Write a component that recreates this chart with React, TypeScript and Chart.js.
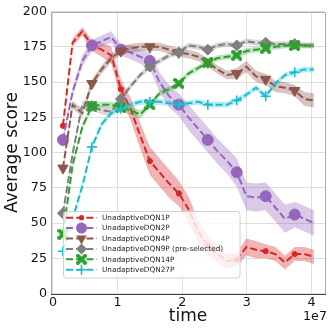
import React, { useEffect, useRef } from "react";
import { Chart, registerables } from "chart.js";
Chart.register(...registerables);

// training steps in millions
const steps = [1.55, 3.04, 4.54, 6.03, 7.53, 9.02, 10.51, 12.01, 13.5, 15.0, 16.49, 17.98, 19.48, 20.97, 22.47, 23.96, 25.45, 26.95, 28.44, 29.94, 31.43, 32.92, 34.42, 35.91, 37.41, 38.9, 40.39];

const dqn1 = [119, 178, 186, 176, 173, 169, 145, 131, 112, 94, 86, 78, 71, 60, 44, 34, 28, 23, 24, 33, 31, 30, 28, 22, 28, 28, 26];
const dqn1Spread = [2, 3, 3, 4, 5, 6, 7, 8, 9, 10, 10, 10, 9, 9, 8, 7, 6, 5, 5, 6, 6, 5, 5, 5, 5, 5, 5];
const dqn2 = [109, 143, 165, 176, 179, 182, 173, 171, 168, 165, 150, 140, 134, 125, 117, 109, 101, 94, 86, 69, 68, 69, 61, 53, 56, 53, 50];
const dqn2Spread = [2, 3, 4, 4, 4, 4, 4, 5, 5, 6, 7, 8, 8, 9, 9, 9, 9, 9, 10, 10, 10, 10, 10, 10, 9, 9, 9];
const dqn4 = [89, 134, 128, 149, 159, 167, 172, 174, 175, 175, 175, 173, 171, 170, 168, 164, 159, 155, 156, 161, 154, 152, 147, 146, 144, 138, 137];
const dqn4Spread = [2, 3, 3, 3, 3, 3, 3, 3, 3, 3, 3, 3, 3, 3, 3, 3, 3, 3, 4, 4, 4, 4, 4, 4, 4, 5, 5];
const dqn9 = [57, 99, 134, 133, 130, 129, 138, 147, 155, 161, 165, 169, 171, 176, 175, 173, 176, 177, 176, 179, 178, 178, 177, 177, 177, 176, 176];
const dqn9Spread = [2, 3, 3, 3, 3, 3, 3, 2, 2, 2, 2, 2, 2, 2, 2, 2, 2, 2, 2, 2, 2, 2, 2, 2, 2, 2, 2];
const dqn14 = [42, 91, 118, 133, 134, 134, 132, 130, 127, 134, 142, 145, 149, 156, 160, 164, 167, 168, 169, 172, 173, 174, 175, 176, 176, 176, 176];
const dqn14Spread = [1, 2, 2, 2, 2, 2, 3, 3, 3, 2, 2, 2, 2, 2, 2, 2, 2, 2, 2, 2, 2, 2, 2, 2, 2, 2, 2];
const dqn27 = [30, 53, 76, 104, 120, 128, 131, 134, 136, 136, 136, 135, 134, 135, 136, 134, 134, 134, 137, 141, 146, 140, 149, 155, 157, 159, 159];
const dqn27Spread = [1, 2, 2, 2, 2, 2, 2, 2, 2, 2, 2, 2, 2, 2, 2, 2, 2, 2, 2, 2, 2, 2, 2, 2, 2, 2, 2];

const seriesLabels = [
  "UnadaptiveDQN1P",
  "UnadaptiveDQN2P",
  "UnadaptiveDQN4P",
  "UnadaptiveDQN9P (pre-selected)",
  "UnadaptiveDQN14P",
  "UnadaptiveDQN27P",
];
const xTicks = [0, 1e7, 2e7, 3e7, 4e7];
const yTicks = [0, 25, 50, 75, 100, 125, 150, 175, 200];

const FONT = "DejaVu Sans";

type Kind = "dot" | "circle" | "tri" | "diamond" | "x" | "plus";

function makeX(color: string, size: number) {
  const c = document.createElement("canvas");
  c.width = size;
  c.height = size;
  const g = c.getContext("2d")!;
  g.translate(size / 2, size / 2);
  g.fillStyle = color;
  const L = size / 2;
  const w = size * 0.17;
  for (const a of [Math.PI / 4, -Math.PI / 4]) {
    g.save();
    g.rotate(a);
    g.fillRect(-L * 1.25, -w, 2.5 * L, 2 * w);
    g.restore();
  }
  return c;
}

function hexA(hex: string, a: number) {
  const r = parseInt(hex.slice(1, 3), 16);
  const g = parseInt(hex.slice(3, 5), 16);
  const b = parseInt(hex.slice(5, 7), 16);
  return `rgba(${r},${g},${b},${a})`;
}

export default function App() {
  const ref = useRef<HTMLCanvasElement>(null);
  useEffect(() => {
    const xImg = makeX("#2ca02c", 11);
    const series = [
      { label: seriesLabels[0], mean: dqn1, spread: dqn1Spread, color: "#d62728", kind: "dot" as Kind, alpha: 0.35 },
      { label: seriesLabels[1], mean: dqn2, spread: dqn2Spread, color: "#9467bd", kind: "circle" as Kind, alpha: 0.35 },
      { label: seriesLabels[2], mean: dqn4, spread: dqn4Spread, color: "#8c564b", kind: "tri" as Kind, alpha: 0.35 },
      { label: seriesLabels[3], mean: dqn9, spread: dqn9Spread, color: "#7f7f7f", kind: "diamond" as Kind, alpha: 0.3 },
      { label: seriesLabels[4], mean: dqn14, spread: dqn14Spread, color: "#2ca02c", kind: "x" as Kind, alpha: 0.3 },
      { label: seriesLabels[5], mean: dqn27, spread: dqn27Spread, color: "#17becf", kind: "plus" as Kind, alpha: 0.3 },
    ];
    const styleOf = (k: Kind): any => {
      switch (k) {
        case "dot": return { pointStyle: "circle", r: 2.6, rot: 0 };
        case "circle": return { pointStyle: "circle", r: 5.5, rot: 0 };
        case "tri": return { pointStyle: "triangle", r: 6, rot: 180 };
        case "diamond": return { pointStyle: "rectRot", r: 5.5, rot: 0 };
        case "x": return { pointStyle: xImg, r: 5.5, rot: 0 };
        case "plus": return { pointStyle: "cross", r: 5, rot: 0 };
      }
    };
    const datasets: any[] = [];
    series.forEach((s, i) => {
      const up = s.mean.map((v, j) => ({ x: steps[j] * 1e6, y: v + s.spread[j] }));
      const lo = s.mean.map((v, j) => ({ x: steps[j] * 1e6, y: v - s.spread[j] }));
      const line = s.mean.map((v, j) => ({ x: steps[j] * 1e6, y: v }));
      const st = styleOf(s.kind);
      datasets.push({ data: up, borderWidth: 0, pointRadius: 0, fill: false, order: 100 - 2 * i });
      datasets.push({ data: lo, borderWidth: 0, pointRadius: 0, fill: "-1", backgroundColor: hexA(s.color, s.alpha), order: 100 - 2 * i });
      datasets.push({
        data: line,
        borderColor: s.color,
        backgroundColor: s.color,
        borderWidth: 2,
        borderDash: [7, 3.2],
        fill: false,
        tension: 0,
        order: 99 - 2 * i,
        pointStyle: st.pointStyle,
        pointRotation: st.rot,
        pointRadius: (c: any) => (c.dataIndex % 3 === 0 ? st.r : 0),
        pointBorderColor: s.color,
        pointBackgroundColor: s.color,
        pointBorderWidth: s.kind === "plus" ? 1.6 : 1,
      });
    });

    const drawMarker = (ctx: CanvasRenderingContext2D, k: Kind, x: number, y: number, color: string) => {
      ctx.save();
      ctx.setLineDash([]);
      ctx.fillStyle = color;
      ctx.strokeStyle = color;
      ctx.beginPath();
      if (k === "dot") { ctx.arc(x, y, 2.6, 0, Math.PI * 2); ctx.fill(); }
      else if (k === "circle") { ctx.arc(x, y, 5.5, 0, Math.PI * 2); ctx.fill(); }
      else if (k === "tri") { ctx.moveTo(x - 5.2, y - 3); ctx.lineTo(x + 5.2, y - 3); ctx.lineTo(x, y + 6); ctx.closePath(); ctx.fill(); }
      else if (k === "diamond") { ctx.moveTo(x, y - 5.5); ctx.lineTo(x + 5.5, y); ctx.lineTo(x, y + 5.5); ctx.lineTo(x - 5.5, y); ctx.closePath(); ctx.fill(); }
      else if (k === "x") { ctx.drawImage(xImg, x - 5.5, y - 5.5); }
      else if (k === "plus") { ctx.lineWidth = 1.6; ctx.moveTo(x - 5, y); ctx.lineTo(x + 5, y); ctx.moveTo(x, y - 5); ctx.lineTo(x, y + 5); ctx.stroke(); }
      ctx.restore();
    };

    const framePlugin = {
      id: "frame",
      beforeDatasetsDraw(chart: any) {
        const { ctx, chartArea: a } = chart;
        ctx.save();
        ctx.lineWidth = 1;
        ctx.strokeStyle = "#aaaaaa";
        ctx.beginPath();
        ctx.moveTo(Math.round(a.left) + 0.5, Math.round(a.bottom));
        ctx.lineTo(Math.round(a.left) + 0.5, Math.round(a.top) + 0.5);
        ctx.lineTo(Math.round(a.right) + 0.5, Math.round(a.top) + 0.5);
        ctx.lineTo(Math.round(a.right) + 0.5, Math.round(a.bottom));
        ctx.stroke();
        ctx.strokeStyle = "#444444";
        ctx.beginPath();
        ctx.moveTo(Math.round(a.left), Math.round(a.bottom) + 0.5);
        ctx.lineTo(Math.round(a.right) + 1, Math.round(a.bottom) + 0.5);
        ctx.stroke();
        ctx.restore();
      },
      afterDatasetsDraw(chart: any) {
        const { ctx } = chart;
        ctx.save();
        // legend box
        const bx = 63.5, by = 211.5, bw = 176.5, bh = 66.5, r = 3;
        ctx.beginPath();
        ctx.moveTo(bx + r, by);
        ctx.lineTo(bx + bw - r, by);
        ctx.quadraticCurveTo(bx + bw, by, bx + bw, by + r);
        ctx.lineTo(bx + bw, by + bh - r);
        ctx.quadraticCurveTo(bx + bw, by + bh, bx + bw - r, by + bh);
        ctx.lineTo(bx + r, by + bh);
        ctx.quadraticCurveTo(bx, by + bh, bx, by + bh - r);
        ctx.lineTo(bx, by + r);
        ctx.quadraticCurveTo(bx, by, bx + r, by);
        ctx.closePath();
        ctx.fillStyle = "rgba(255,255,255,0.8)";
        ctx.fill();
        ctx.strokeStyle = "#d0d0d0";
        ctx.lineWidth = 1;
        ctx.stroke();
        series.forEach((s, i) => {
          const y = 217.7 + i * 10.4;
          ctx.save();
          ctx.strokeStyle = s.color;
          ctx.lineWidth = 2;
          ctx.setLineDash([7, 3.2]);
          ctx.beginPath();
          ctx.moveTo(66, y);
          ctx.lineTo(97, y);
          ctx.stroke();
          ctx.restore();
          drawMarker(ctx, s.kind, 81.5, y, s.color);
          ctx.fillStyle = "#222";
          ctx.font = `7.3px "${FONT}"`;
          ctx.textBaseline = "middle";
          ctx.textAlign = "left";
          ctx.fillText(s.label, 102, y + 0.5);
        });
        // offset text
        ctx.fillStyle = "#111";
        ctx.font = `12.7px "${FONT}"`;
        ctx.textAlign = "right";
        ctx.textBaseline = "alphabetic";
        ctx.fillText("1e7", 327, 320);
        ctx.restore();
      },
    };

    const chart = new Chart(ref.current!, {
      type: "line",
      data: { datasets },
      plugins: [framePlugin],
      options: {
        animation: false,
        responsive: false,
        devicePixelRatio: 1,
        events: [],
        layout: { padding: { left: 0, right: 6.5, top: 10, bottom: 0 } },
        plugins: { legend: { display: false }, tooltip: { enabled: false } },
        scales: {
          x: {
            type: "linear",
            min: -0.03e7,
            max: 4.21e7,
            afterBuildTicks: (s: any) => { s.ticks = xTicks.map((v) => ({ value: v })); },
            afterFit: (s: any) => { s.height = 38.5; },
            grid: { color: "#dedede", lineWidth: 1, drawTicks: false },
            border: { display: false },
            ticks: {
              padding: 2,
              color: "#111",
              font: { family: FONT, size: 12.7 },
              callback: (v: any) => String(Number(v) / 1e7),
              maxRotation: 0,
            },
            title: { display: true, text: "time", color: "#111", font: { family: FONT, size: 17 }, padding: { top: 0, bottom: 5 } },
          },
          y: {
            min: 0,
            max: 200,
            afterBuildTicks: (s: any) => { s.ticks = yTicks.map((v) => ({ value: v })); },
            afterFit: (s: any) => { s.width = 51; },
            grid: { color: "#dedede", lineWidth: 1, drawTicks: false },
            border: { display: false },
            ticks: { padding: 4, color: "#111", font: { family: FONT, size: 12.7 }, callback: (v: any) => String(v) },
            title: { display: true, text: "Average score", color: "#111", font: { family: FONT, size: 17 }, padding: { top: 2, bottom: 0 } },
          },
        },
      } as any,
    });
    return () => chart.destroy();
  }, []);
  return (
    <div style={{ position: "fixed", left: 0, top: 0, width: 332, height: 332, background: "#fff" }}>
      <canvas ref={ref} width={332} height={332} style={{ display: "block", width: 332, height: 332 }} />
    </div>
  );
}
